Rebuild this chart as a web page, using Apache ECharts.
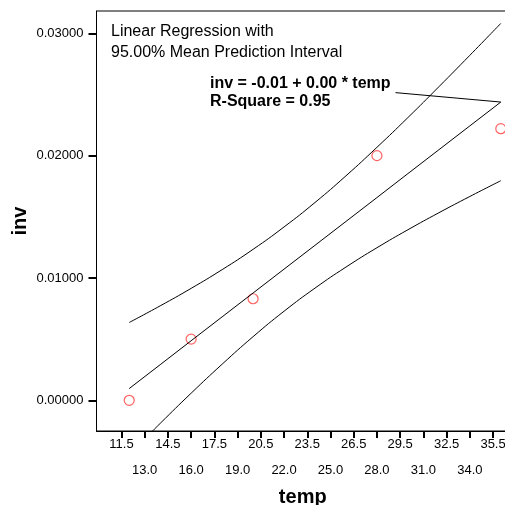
<!DOCTYPE html>
<html>
<head>
<meta charset="utf-8">
<script src="https://cdn.jsdelivr.net/npm/echarts@6/dist/echarts.min.js"></script>
<style>
html,body{margin:0;padding:0;background:#fff;}
#chart{width:505px;height:505px;}
</style>
</head>
<body>
<div id="chart"></div>
<script>
// Observed data points
var temp = [12, 16, 20, 28, 36];
var inv = [0.0, 0.0050, 0.0083, 0.0200, 0.0222];

// Regression line and 95% mean prediction band
var bandTemp = [12, 14, 16, 18, 20, 22, 24, 26, 28, 30, 32, 34, 36];
var fitValues = [0.00096, 0.00291, 0.00487, 0.00682, 0.00877, 0.01072, 0.01267, 0.01462, 0.01657, 0.01853, 0.02048, 0.02243, 0.02438];
var upperValues = [0.00636, 0.00772, 0.00915, 0.01068, 0.01234, 0.01417, 0.01617, 0.01835, 0.02068, 0.02311, 0.02563, 0.02820, 0.03081];
var lowerValues = [-0.00443, -0.00189, 0.00058, 0.00295, 0.00520, 0.00728, 0.00917, 0.01089, 0.01247, 0.01394, 0.01533, 0.01666, 0.01795];

// Connector from the equation label to the end of the fit line
var connectorTemp = [29.2, 36];
var connectorInv = [0.02515, 0.02438];

// Tick labels
var xTicksRow1 = [11.5, 14.5, 17.5, 20.5, 23.5, 26.5, 29.5, 32.5, 35.5];
var xTicksRow2 = [13.0, 16.0, 19.0, 22.0, 25.0, 28.0, 31.0, 34.0];
var xTicksAll = [11.5, 13.0, 14.5, 16.0, 17.5, 19.0, 20.5, 22.0, 23.5, 25.0, 26.5, 28.0, 29.5, 31.0, 32.5, 34.0, 35.5];
var yTicks = [0.0, 0.01, 0.02, 0.03];

var titleLines = ['Linear Regression with', '95.00% Mean Prediction Interval'];
var equationLines = ['inv = -0.01 + 0.00 * temp', 'R-Square = 0.95'];

function pairs(xs, ys) { return xs.map(function (x, i) { return [x, ys[i]]; }); }

var FONT = 'Arial, "Liberation Sans", sans-serif';
var xMin = 9.887, xMax = 36.53;
var yMin = -0.00251, yMax = 0.031823;

var chart = echarts.init(document.getElementById('chart'), null, {renderer: 'canvas'});
chart.setOption({
  backgroundColor: '#ffffff',
  animation: false,
  grid: {left: 96.5, right: -4, top: 11, bottom: 74, containLabel: false, outerBoundsMode: 'none',
    show: true, borderColor: '#000', borderWidth: 1, backgroundColor: 'transparent'},
  xAxis: [{
    type: 'value', min: xMin, max: xMax,
    name: 'temp', nameLocation: 'middle', nameGap: 56, nameMoveOverlap: false,
    nameTextStyle: {fontFamily: FONT, fontSize: 20, fontWeight: 'bold', color: '#000'},
    axisLine: {show: true, onZero: false, lineStyle: {color: '#000', width: 1}},
    axisTick: {show: true, length: 7, lineStyle: {color: '#000', width: 2}, customValues: xTicksAll},
    axisLabel: {margin: 7, fontFamily: FONT, fontSize: 13, color: '#000', customValues: xTicksRow1,
      formatter: function (v) { return v.toFixed(1); }},
    splitLine: {show: false}
  }, {
    type: 'value', min: xMin, max: xMax, position: 'bottom',
    axisLine: {show: false}, axisTick: {show: false},
    axisLabel: {margin: 33, fontFamily: FONT, fontSize: 13, color: '#000', customValues: xTicksRow2,
      formatter: function (v) { return v.toFixed(1); }},
    splitLine: {show: false}
  }],
  yAxis: {
    type: 'value', min: yMin, max: yMax,
    name: 'inv', nameLocation: 'middle', nameGap: 66, nameRotate: 90, nameMoveOverlap: false,
    nameTextStyle: {fontFamily: FONT, fontSize: 20, fontWeight: 'bold', color: '#000'},
    axisLine: {show: true, onZero: false, lineStyle: {color: '#000', width: 1}},
    axisTick: {show: true, length: 8, lineStyle: {color: '#000', width: 2}, customValues: yTicks},
    axisLabel: {margin: 13, fontFamily: FONT, fontSize: 13, color: '#000', customValues: yTicks,
      formatter: function (v) { return v.toFixed(5); }},
    splitLine: {show: false}
  },
  series: [
    {type: 'line', data: pairs(bandTemp, upperValues), showSymbol: false, smooth: true, clip: true,
      lineStyle: {color: '#000', width: 1}, silent: true},
    {type: 'line', data: pairs(bandTemp, fitValues), showSymbol: false, clip: true,
      lineStyle: {color: '#000', width: 1}, silent: true},
    {type: 'line', data: pairs(bandTemp, lowerValues), showSymbol: false, smooth: true, clip: true,
      lineStyle: {color: '#000', width: 1}, silent: true},
    {type: 'line', data: pairs(connectorTemp, connectorInv), showSymbol: false, clip: true,
      lineStyle: {color: '#000', width: 1}, silent: true},
    {type: 'scatter', data: pairs(temp, inv), symbol: 'circle', symbolSize: 10, clip: false,
      itemStyle: {color: 'transparent', borderColor: '#ff3b3b', borderWidth: 1.2}}
  ],
  graphic: [
    {type: 'text', left: 111, top: 24, style: {text: titleLines[0], font: '16px ' + FONT, fill: '#000'}},
    {type: 'text', left: 111, top: 45, style: {text: titleLines[1], font: '16px ' + FONT, fill: '#000'}},
    {type: 'text', left: 210, top: 76, style: {text: equationLines[0], font: 'bold 16px ' + FONT, fill: '#000'}},
    {type: 'text', left: 210, top: 94, style: {text: equationLines[1], font: 'bold 16px ' + FONT, fill: '#000'}}
  ]
});
</script>
</body>
</html>
